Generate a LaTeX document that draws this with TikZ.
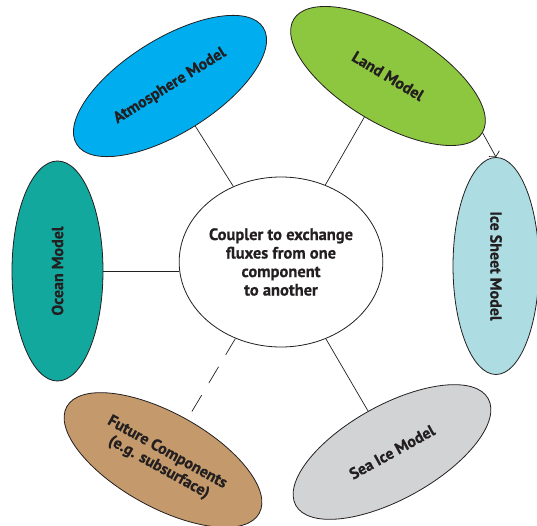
\documentclass[tikz,border=0pt]{standalone}
\usepackage{fontspec}
\setmainfont[BoldFeatures={FakeBold=0.6}]{PT Sans}
\usetikzlibrary{shapes.geometric,arrows.meta}
\definecolor{ink}{HTML}{231F20}
\definecolor{atmc}{HTML}{00AEEF}
\definecolor{landc}{HTML}{8DC63F}
\definecolor{icec}{HTML}{ADDDE3}
\definecolor{oceanc}{HTML}{13A89E}
\definecolor{futc}{HTML}{C49A6C}
\definecolor{seac}{HTML}{D1D3D4}
\tikzset{
  comp/.style={ellipse, draw=ink, line width=0.8pt, minimum width=220pt, minimum height=94pt, inner sep=0pt, text=ink, font=\bfseries\fontsize{16}{18}\selectfont, align=center},
  hub/.style={ellipse, draw=ink, line width=0.8pt, fill=white, minimum width=192pt, minimum height=170pt, inner sep=0pt, text=ink, font=\bfseries\fontsize{16.5}{18.5}\selectfont, align=center},
  link/.style={draw=ink, line width=0.7pt},
}
\begin{document}
\begin{tikzpicture}[x=1pt,y=1pt]
\useasboundingbox (0,0) rectangle (537,525);
\node[hub] (coupler) at (281,263) {Coupler to exchange\\fluxes from one\\component\\to another};
\node[comp, fill=atmc, rotate=32] (atm) at (170,439) {Atmosphere Model};
\node[comp, fill=landc, rotate=-31] (land) at (388,449) {Land Model};
\node[comp, fill=oceanc, minimum width=220pt, minimum height=91pt, rotate=90] (ocean) at (57.5,254) {Ocean Model};
\node[comp, fill=icec, minimum width=217pt, minimum height=86pt, rotate=-90] (ice) at (496,259) {Ice Sheet Model};
\node[comp, fill=futc, rotate=-29, font=\bfseries\fontsize{16}{17}\selectfont] (fut) at (163,65) {Future Components\\(e.g. subsurface)};
\node[comp, fill=seac, rotate=29] (sea) at (392,73) {Sea Ice Model};
\draw[link] (atm) -- (coupler);
\draw[link] (land) -- (coupler);
\draw[link] (ocean.south) -- (ocean.south -| coupler.west);
\draw[link] (sea) -- (coupler);
\draw[link, dash pattern=on 19pt off 14pt] (coupler) -- (fut);
\draw[link, -{Straight Barb[length=3.5pt,width=12pt]}] (land.east) -- (ice.west);
\end{tikzpicture}
\end{document}
